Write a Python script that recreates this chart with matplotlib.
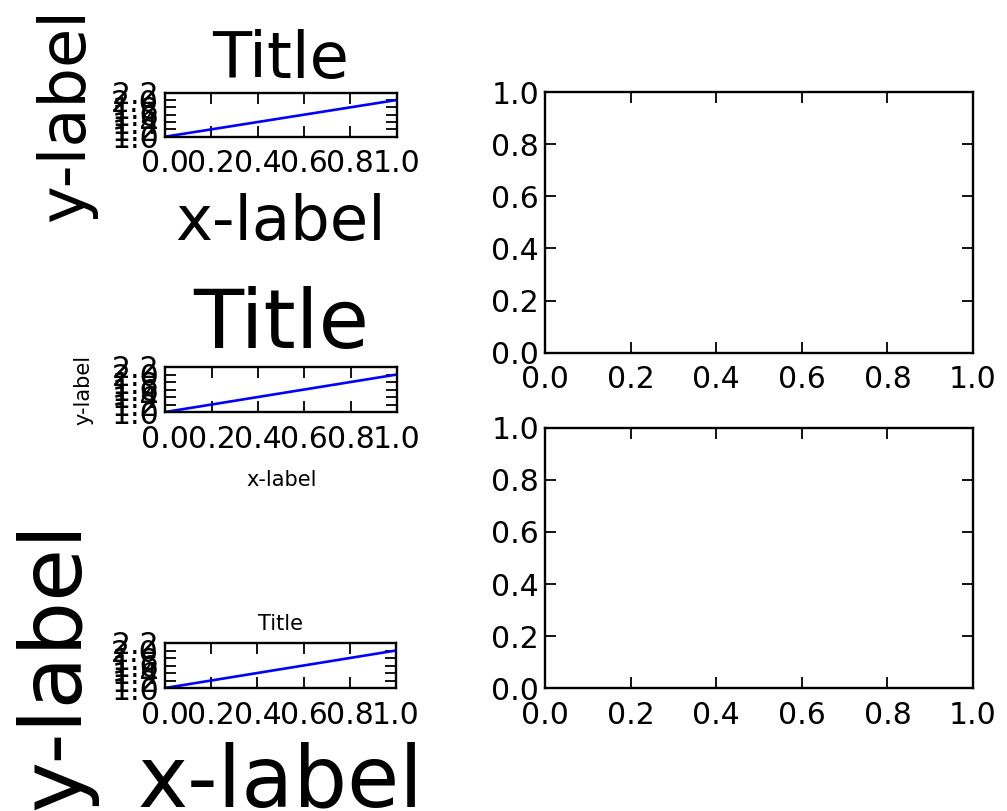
import matplotlib.pyplot as plt

# data: every left panel draws the same line, right panels are empty
line_y = [1, 2]
small_xticks = [0.0, 0.2, 0.4, 0.6, 0.8, 1.0]
small_yticks = [1.0, 1.2, 1.4, 1.6, 1.8, 2.0, 2.2]
empty_ticks = [0.0, 0.2, 0.4, 0.6, 0.8, 1.0]

# font sizes (pt) of title / x-label / y-label for the three left panels
title_sizes = [46, 59, 15]
xlabel_sizes = [45, 15, 61]
ylabel_sizes = [46, 15, 62]

W, H = 1007, 811

plt.rcParams.update({
    'font.family': 'DejaVu Sans',
    'axes.linewidth': 1.7,
    'lines.linewidth': 1.9,
    'xtick.direction': 'in',
    'ytick.direction': 'in',
    'xtick.top': True,
    'ytick.right': True,
    'xtick.major.size': 7.7,
    'ytick.major.size': 7.7,
    'xtick.major.width': 1.3,
    'ytick.major.width': 1.3,
    'xtick.major.pad': 9.2,
    'ytick.major.pad': 4.3,
    'xtick.labelsize': 21.5,
    'ytick.labelsize': 21.5,
})

fig = plt.figure(figsize=(W / 100, H / 100), dpi=100)


def px_axes(x0, y0, x1, y1):
    # axes box given in pixel coords (origin top-left)
    return fig.add_axes([x0 / W, 1 - y1 / H, (x1 - x0) / W, (y1 - y0) / H])


left_boxes = [(165, 92.7, 396.5, 136.7), (165.3, 367, 397, 412), (165, 643, 396, 688)]
title_pads = [10.4, 13.5, 9.4]
xlabel_y = [-1.273, -1.289, -1.193]
ylabel_x = [-0.295, -0.31, -0.294]

for i, box in enumerate(left_boxes):
    ax = px_axes(*box)
    ax.plot(line_y, color='b')
    ax.set_xlim(0, 1)
    ax.set_ylim(1.0, 2.2)
    ax.set_xticks(small_xticks)
    ax.set_yticks(small_yticks)
    ax.set_title('Title', fontsize=title_sizes[i], pad=title_pads[i])
    ax.set_xlabel('x-label', fontsize=xlabel_sizes[i])
    ax.set_ylabel('y-label', fontsize=ylabel_sizes[i])
    ax.xaxis.set_label_coords(0.5, xlabel_y[i])
    ax.yaxis.set_label_coords(ylabel_x[i], 0.5)

# right column: two empty axes
for box in [(545, 92, 973, 352.7), (545, 427.7, 973, 688.3)]:
    ax = px_axes(*box)
    ax.set_xlim(0, 1)
    ax.set_ylim(0, 1)
    ax.set_xticks(empty_ticks)
    ax.set_yticks(empty_ticks)

fig.savefig('out.png', dpi=100)
